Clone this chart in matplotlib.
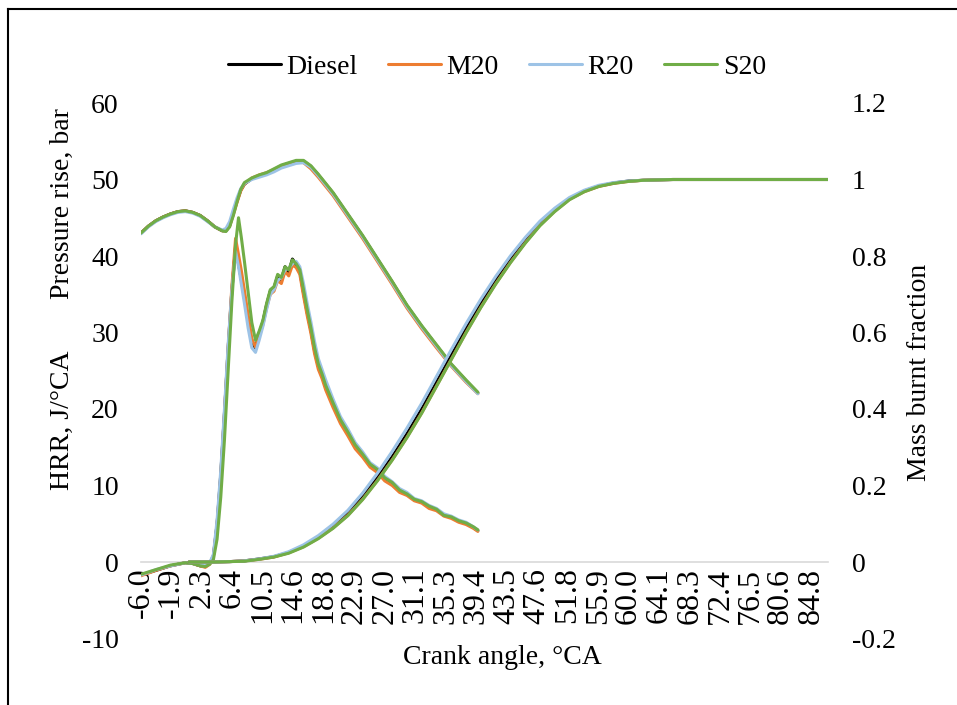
import matplotlib
matplotlib.use("Agg")
from matplotlib import pyplot as plt
from matplotlib.lines import Line2D

# crank angle grids, degrees
hrr_angle = [-6, -4, -2, 0, 1, 2,
             2.7, 3.3, 3.8, 4.3, 4.8, 5.3, 5.8, 6.3, 6.8,
             7.2, 7.6, 8.0, 8.5, 9.0, 9.5,
             10.0, 10.5, 11.0, 11.5, 12.0, 12.5, 13.0, 13.5, 14.0, 14.5,
             15.0, 15.5, 16.0, 16.5, 17.0, 17.5, 18.0, 18.5, 19.0,
             20, 21, 22, 23, 24, 25, 26, 27, 28, 29,
             30, 31, 32, 33, 34, 35, 36, 37, 38, 39, 39.6]
pres_angle = [-6, -5, -4, -3, -2, -1, 0, 1, 2, 3, 4, 5, 5.5, 6, 6.5, 7, 7.5, 8,
              9, 10, 11, 12, 13, 14, 15, 16, 17, 18, 19, 20,
              22, 24, 26, 28, 30, 32, 34, 36, 38, 39.6]
mbf_angle = [0.5, 4, 6, 8, 10, 12, 14, 16, 18, 20, 22, 24, 26, 28, 30, 32, 34, 36,
             38, 40, 42, 44, 46, 48, 50, 52, 54, 56, 58, 60, 62, 64, 66, 70, 75, 80, 87]

# heat release rate, J/degCA
hrr_diesel = [-1.7, -1.1, -0.5, -0.1, -0.2, -0.5,
              -0.6, -0.2, 0.8, 5.0, 11.5, 19.5, 28.0, 35.5, 41.2,
              39.0, 36.8, 34.5, 31.5, 28.6, 28.0,
              29.8, 31.4, 33.6, 35.4, 35.8, 37.4, 36.9, 38.6, 37.9, 39.6,
              38.9, 38.0, 35.2, 32.6, 30.3, 27.6, 25.6, 24.4, 22.8,
              20.6, 18.4, 16.9, 15.0, 14.0, 12.6, 12.0, 10.8, 10.3, 9.3,
              8.9, 8.1, 7.9, 7.2, 6.9, 6.1, 5.9, 5.3, 5.1, 4.5, 4.1]
hrr_m20 = [-1.8, -1.1, -0.5, -0.1, -0.2, -0.5,
           -0.7, -0.3, 0.7, 4.8, 11.2, 19.3, 28.0, 36.0, 42.3,
           40.2, 38.0, 35.5, 32.3, 29.2, 28.1,
           29.5, 31.0, 33.2, 35.0, 35.4, 36.8, 36.4, 38.0, 37.4, 38.8,
           38.5, 37.6, 34.8, 32.2, 29.9, 27.2, 25.2, 24.0, 22.5,
           20.2, 18.1, 16.5, 14.8, 13.7, 12.4, 11.7, 10.6, 10.0, 9.1,
           8.7, 8.0, 7.7, 7.0, 6.7, 6.0, 5.7, 5.2, 4.9, 4.4, 4.0]
hrr_r20 = [-1.7, -1.0, -0.5, -0.1, -0.2, -0.4,
           -0.5, -0.1, 1.0, 5.5, 12.0, 20.0, 28.5, 35.5, 40.6,
           38.6, 36.2, 33.8, 30.6, 28.0, 27.4,
           29.0, 30.8, 33.0, 35.0, 35.6, 36.8, 37.2, 38.2, 38.4, 39.0,
           39.3, 38.6, 36.4, 33.8, 31.4, 28.8, 26.6, 25.2, 23.8,
           21.3, 19.0, 17.4, 15.6, 14.4, 13.0, 12.3, 11.2, 10.5, 9.6,
           9.1, 8.3, 8.0, 7.4, 7.0, 6.3, 6.0, 5.5, 5.2, 4.6, 4.2]
hrr_s20 = [-1.6, -1.0, -0.4, -0.1, -0.2, -0.5,
           -0.6, -0.3, 0.3, 3.0, 8.5, 16.0, 25.0, 34.0, 41.5,
           45.0, 42.3, 39.3, 35.3, 31.3, 29.0,
           30.2, 31.6, 33.8, 35.6, 36.0, 37.6, 37.2, 38.6, 38.2, 39.5,
           39.0, 38.2, 35.6, 33.0, 30.6, 28.0, 25.9, 24.6, 23.1,
           20.8, 18.6, 17.0, 15.3, 14.1, 12.8, 12.1, 11.0, 10.4, 9.4,
           8.9, 8.2, 7.9, 7.3, 6.9, 6.1, 5.9, 5.4, 5.1, 4.6, 4.2]

# pressure rise, bar
pres_diesel = [43.0, 43.9, 44.6, 45.1, 45.5, 45.8, 45.9, 45.7, 45.3, 44.6, 43.8, 43.3,
               43.3, 44.0, 45.6, 47.2, 48.6, 49.4, 50.1, 50.5, 50.8, 51.3, 51.8, 52.1,
               52.4, 52.4, 51.7, 50.6, 49.4, 48.2, 45.4, 42.6, 39.6, 36.6, 33.5, 30.8,
               28.3, 25.8, 23.7, 22.1]
pres_m20 = [43.0, 43.9, 44.6, 45.1, 45.5, 45.8, 45.9, 45.7, 45.3, 44.6, 43.8, 43.3,
            43.3, 43.9, 45.4, 47.0, 48.5, 49.4, 50.2, 50.6, 50.9, 51.3, 51.7, 52.0,
            52.3, 52.2, 51.4, 50.3, 49.1, 47.9, 45.1, 42.3, 39.3, 36.3, 33.2, 30.5,
            28.0, 25.6, 23.5, 22.0]
pres_r20 = [42.9, 43.8, 44.5, 45.0, 45.4, 45.7, 45.8, 45.6, 45.2, 44.5, 43.8, 43.4,
            43.6, 44.5, 46.1, 47.6, 48.8, 49.5, 50.0, 50.3, 50.6, 51.0, 51.5, 51.8,
            52.1, 52.2, 51.6, 50.5, 49.3, 48.1, 45.3, 42.5, 39.5, 36.5, 33.4, 30.7,
            28.2, 25.7, 23.6, 22.0]
pres_s20 = [43.0, 43.9, 44.6, 45.1, 45.5, 45.8, 45.9, 45.7, 45.3, 44.6, 43.8, 43.3,
            43.2, 43.8, 45.3, 47.1, 48.7, 49.6, 50.2, 50.6, 50.9, 51.4, 51.9, 52.2,
            52.5, 52.5, 51.8, 50.7, 49.5, 48.3, 45.5, 42.7, 39.7, 36.7, 33.6, 30.9,
            28.4, 25.9, 23.8, 22.2]

# mass burnt fraction
mbf_diesel = [0, 0, 0.001, 0.003, 0.008, 0.014, 0.025, 0.042, 0.065, 0.093, 0.127, 0.17,
              0.22, 0.275, 0.335, 0.40, 0.47, 0.54, 0.61, 0.675, 0.735, 0.79, 0.84,
              0.885, 0.92, 0.95, 0.97, 0.983, 0.991, 0.996, 0.998, 0.999, 1.0, 1.0,
              1.0, 1.0, 1.0]
mbf_m20 = [0, 0, 0.001, 0.003, 0.007, 0.013, 0.024, 0.040, 0.062, 0.089, 0.122, 0.164,
           0.213, 0.267, 0.326, 0.39, 0.46, 0.53, 0.60, 0.666, 0.727, 0.783, 0.834,
           0.88, 0.917, 0.948, 0.968, 0.982, 0.99, 0.995, 0.998, 0.999, 1.0, 1.0,
           1.0, 1.0, 1.0]
mbf_r20 = [0, 0, 0.001, 0.003, 0.008, 0.015, 0.027, 0.045, 0.069, 0.099, 0.135, 0.18,
           0.232, 0.289, 0.35, 0.415, 0.485, 0.555, 0.623, 0.687, 0.746, 0.80, 0.848,
           0.891, 0.925, 0.953, 0.972, 0.985, 0.992, 0.996, 0.998, 0.999, 1.0, 1.0,
           1.0, 1.0, 1.0]
mbf_s20 = [0, 0, 0.001, 0.002, 0.007, 0.013, 0.023, 0.039, 0.061, 0.088, 0.121, 0.163,
           0.212, 0.266, 0.325, 0.389, 0.459, 0.529, 0.599, 0.665, 0.726, 0.782, 0.833,
           0.879, 0.916, 0.947, 0.968, 0.982, 0.99, 0.995, 0.998, 0.999, 1.0, 1.0,
           1.0, 1.0, 1.0]

series_names = ["Diesel", "M20", "R20", "S20"]
series_colors = ["#000000", "#ED7D31", "#9DC3E6", "#70AD47"]
hrr_all = [hrr_diesel, hrr_m20, hrr_r20, hrr_s20]
pres_all = [pres_diesel, pres_m20, pres_r20, pres_s20]
mbf_all = [mbf_diesel, mbf_m20, mbf_r20, mbf_s20]

x_tick_labels = ["-6.0", "-1.9", "2.3", "6.4", "10.5", "14.6", "18.8", "22.9", "27.0",
                 "31.1", "35.3", "39.4", "43.5", "47.6", "51.8", "55.9", "60.0", "64.1",
                 "68.3", "72.4", "76.5", "80.6", "84.8"]

plt.rcParams["font.family"] = ["Liberation Serif", "DejaVu Serif"]
plt.rcParams["font.size"] = 20
plt.rcParams["axes.unicode_minus"] = False

W, H = 957, 705
fig = plt.figure(figsize=(W / 100, H / 100), dpi=100)
ax = fig.add_axes([141 / W, 1 - 638.5 / H, (828 - 141) / W, (638.5 - 103) / H])
ax2 = ax.twinx()

lw = 2.2
for name, color, hrr, pres, mbf in zip(series_names, series_colors, hrr_all, pres_all, mbf_all):
    ax.plot(hrr_angle, hrr, color=color, linewidth=lw, solid_joinstyle="round",
            solid_capstyle="round", label=name)
    ax.plot(pres_angle, pres, color=color, linewidth=lw, solid_joinstyle="round",
            solid_capstyle="round")
    ax2.plot(mbf_angle, mbf, color=color, linewidth=lw, solid_joinstyle="round",
             solid_capstyle="round")

for a in (ax, ax2):
    for side in ("top", "left", "right", "bottom"):
        a.spines[side].set_visible(False)
ax.spines["bottom"].set_visible(True)
ax.spines["bottom"].set_position(("data", 0))
ax.spines["bottom"].set_color("#D9D9D9")
ax.spines["bottom"].set_linewidth(1.2)
ax.spines["bottom"].set_zorder(0)

ax.set_xlim(-6.0, 87.0)
ax.set_ylim(-10, 60)
ax2.set_ylim(-0.2, 1.2)
ax.set_yticks(range(-10, 61, 10))
ax2.set_yticks([-0.2, 0, 0.2, 0.4, 0.6, 0.8, 1.0, 1.2])
ax2.set_yticklabels(["-0.2", "0", "0.2", "0.4", "0.6", "0.8", "1", "1.2"])
ax.set_xticks([float(t) for t in x_tick_labels])
ax.set_xticklabels(x_tick_labels)

ax.tick_params(axis="x", length=0, pad=4, labelrotation=90, labelsize=23)
ax.tick_params(axis="y", length=0, pad=16)
ax2.tick_params(axis="y", length=0, pad=17)

fig.text(62 / W, 1 - 204 / H, "Pressure rise, bar", rotation=90, ha="center", va="center")
fig.text(62 / W, 1 - 420 / H, "HRR, J/°CA", rotation=90, ha="center", va="center")
fig.text(920 / W, 1 - 372 / H, "Mass burnt fraction", rotation=90, ha="center", va="center")
fig.text(502 / W, 1 - 657 / H, "Crank angle, °CA", ha="center", va="center")

fig.legend(loc="center", bbox_to_anchor=(497 / W, 1 - 67 / H), ncol=4, frameon=False,
           handlelength=1.9, handletextpad=0.2, columnspacing=1.1, fontsize=20)

# chart frame
fig.add_artist(Line2D([8 / W, 8 / W], [0, 1 - 9 / H], color="black", linewidth=1.5))
fig.add_artist(Line2D([8 / W, 1], [1 - 9 / H, 1 - 9 / H], color="black", linewidth=1.5))

fig.savefig("out.png", dpi=100)
